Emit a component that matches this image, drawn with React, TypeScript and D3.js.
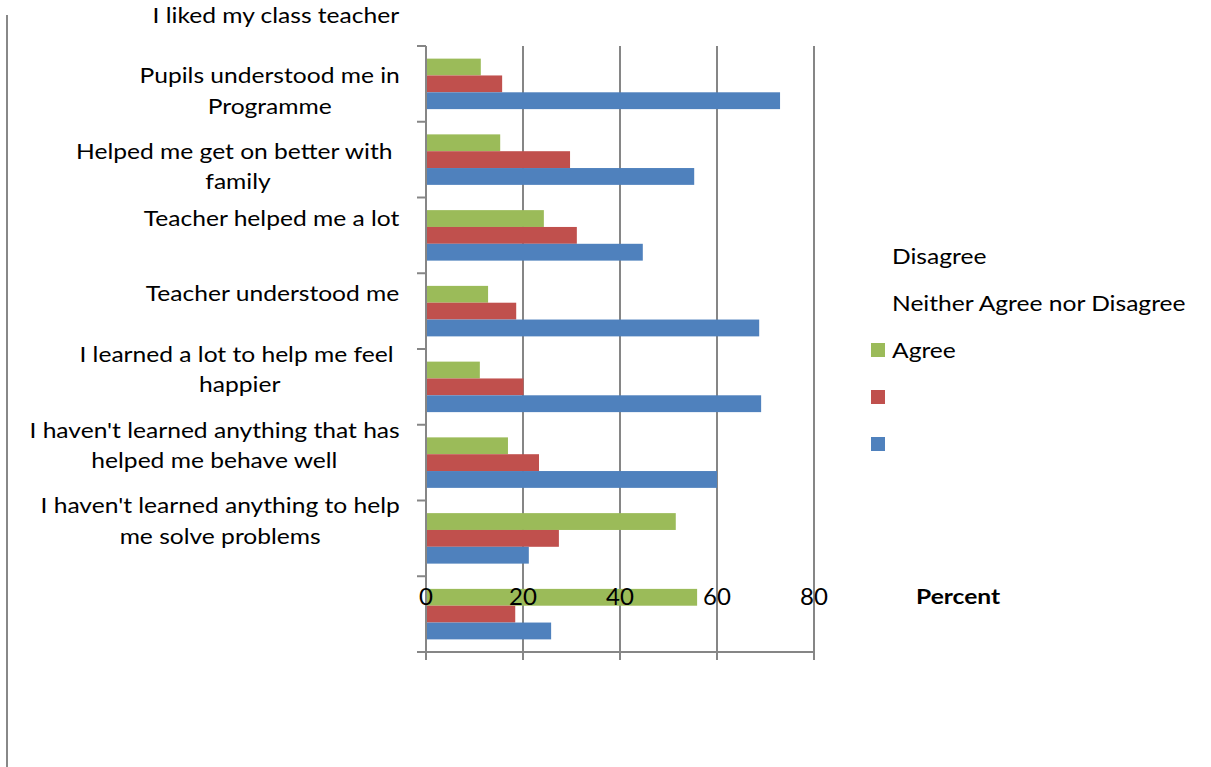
import { useMemo } from 'react';
import * as d3 from 'd3';

// categories top -> bottom (line breaks as in the picture)
const categories = [
  'I liked my class teacher',
  'Pupils understood me in\nProgramme',
  'Helped me get on better with \nfamily',
  'Teacher helped me a lot',
  'Teacher understood me',
  'I learned a lot to help me feel \nhappier',
  "I haven't learned anything that has\nhelped me behave well",
  "I haven't learned anything to help\nme solve problems",
];

const agree = [11.3, 15.3, 24.3, 12.8, 11.1, 16.9, 51.5, 55.9];
const neither = [15.7, 29.7, 31.1, 18.6, 20.1, 23.3, 27.4, 18.4];
const disagree = [73.0, 55.3, 44.7, 68.7, 69.1, 60.0, 21.2, 25.8];

const seriesKeys = ['agree', 'neither', 'disagree'];
const seriesColors = ['#9BBB59', '#C0504D', '#4F81BD'];
const xTicks = [0, 20, 40, 60, 80];

// legend: texts sit on the first rows, swatches on the last rows
const legendTexts = ['Disagree', 'Neither Agree nor Disagree', 'Agree'];

const FONT = 'Lato, "Open Sans", sans-serif';
const W = 1211;
const H = 767;
const SX = 1.2; // the original text is wider than Lato, stretch it

let ctx: CanvasRenderingContext2D | null = null;
function measure(s: string, size: number) {
  if (!ctx) ctx = document.createElement('canvas').getContext('2d');
  if (!ctx) return s.length * size * 0.5;
  ctx.font = `${size}px ${FONT}`;
  return ctx.measureText(s).width * SX;
}

function Txt({ x, y, size, bold, children }: { x: number; y: number; size: number; bold?: boolean; children: string }) {
  return (
    <text transform={`translate(${x},${y}) scale(${SX},1)`} dominantBaseline="central" fontSize={size}
      fontWeight={bold ? 'bold' : 'normal'} fill="#000" style={{ whiteSpace: 'pre' }}>{children}</text>
  );
}

export default function App() {
  const margin = { top: 46, left: 426, right: 814, bottom: 652 };
  const catSize = 20.5;
  const tickSize = 24;

  const x = d3.scaleLinear().domain([0, 80]).range([margin.left, margin.right]);
  const y = d3.scaleBand<number>().domain(d3.range(categories.length)).range([margin.top, margin.bottom]).padding(0);
  const inner = d3.scaleBand<string>().domain(seriesKeys).range([0, y.bandwidth()]).paddingInner(0).paddingOuter(0.75);
  const vals: Record<string, number[]> = { agree, neither, disagree };
  const step = y.step();

  const labels = useMemo(() => categories.map((c, i) => {
    const lines = c.split('\n');
    const widths = lines.map(l => measure(l, catSize));
    const block = d3.max(widths) ?? 0;
    const cx = 400 - block / 2;
    const shift = i < 3 ? -0.91 : -1.23;
    const cy = (y(i) ?? 0) + y.bandwidth() / 2 + shift * step;
    return { lines, widths, cx, cy };
  }), []);

  const lineH = 30.5;
  const legendRow = d3.scalePoint<number>().domain(d3.range(5)).range([256, 444]);

  return (
    <svg width={W} height={H} style={{ position: 'absolute', left: 0, top: 0, background: '#fff' }}
      fontFamily={FONT}>
      {/* outer frame line at left */}
      <line x1={7} x2={7} y1={15} y2={H} stroke="#888" strokeWidth={2} />

      {/* gridlines */}
      {xTicks.slice(1).map(t => (
        <line key={t} x1={x(t)} x2={x(t)} y1={margin.top} y2={margin.bottom + 8} stroke="#868686" strokeWidth={2} />
      ))}

      {/* bars */}
      {categories.map((_, i) => (
        <g key={i} transform={`translate(0,${y(i)})`}>
          {seriesKeys.map((k, j) => (
            <rect key={k} x={x(0)} y={inner(k)} width={x(vals[k][i]) - x(0)} height={inner.bandwidth()} fill={seriesColors[j]} />
          ))}
        </g>
      ))}

      {/* category axis */}
      <line x1={margin.left} x2={margin.left} y1={margin.top} y2={margin.bottom + 8} stroke="#868686" strokeWidth={2} />
      {d3.range(categories.length + 1).map(i => {
        const yy = margin.top + i * step;
        return <line key={i} x1={margin.left - 9} x2={margin.left} y1={yy} y2={yy} stroke="#868686" strokeWidth={2} />;
      })}
      <line x1={margin.left - 9} x2={margin.right} y1={margin.bottom} y2={margin.bottom} stroke="#868686" strokeWidth={2} />

      {/* value tick labels (drawn where the original put them) */}
      {xTicks.map(t => (
        <text key={t} x={x(t)} y={margin.bottom - 57} textAnchor="middle" dominantBaseline="central" fontSize={tickSize} fill="#000">{t}</text>
      ))}

      {/* category labels */}
      {labels.map((l, i) => (
        <g key={i}>
          {l.lines.map((ln, k) => (
            <Txt key={k} x={l.cx - l.widths[k] / 2} y={l.cy + (k - (l.lines.length - 1) / 2) * lineH} size={catSize}>{ln}</Txt>
          ))}
        </g>
      ))}

      {/* legend */}
      {legendTexts.map((t, i) => (
        <Txt key={t} x={892} y={legendRow(i) ?? 0} size={catSize}>{t}</Txt>
      ))}
      {seriesColors.map((c, j) => (
        <rect key={c} x={871} y={(legendRow(j + 2) ?? 0) - 7} width={14} height={14} fill={c} />
      ))}

      <Txt x={916} y={596} size={catSize} bold>Percent</Txt>
    </svg>
  );
}
